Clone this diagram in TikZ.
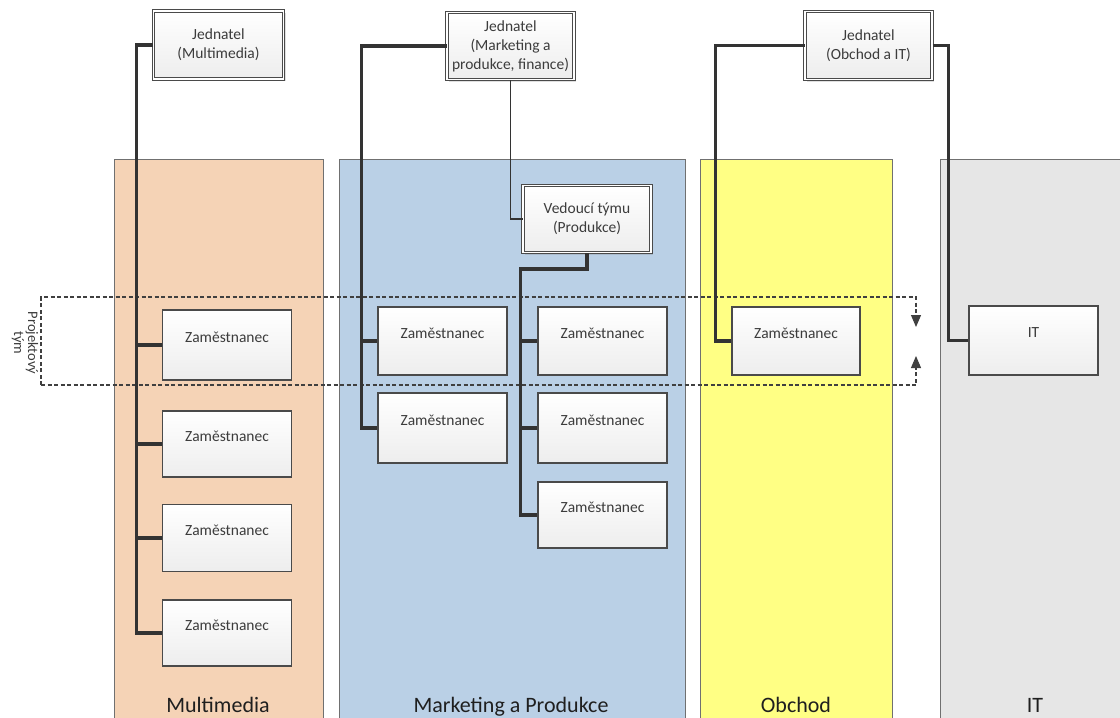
\documentclass[tikz,border=0pt]{standalone}
\usepackage{fontspec}
\setmainfont{Carlito}
\usetikzlibrary{arrows.meta,shadows,calc}
\definecolor{cMM}{HTML}{F5D3B6}
\definecolor{cMP}{HTML}{BAD0E6}
\definecolor{cOB}{HTML}{FFFF84}
\definecolor{cIT}{HTML}{E6E6E6}
\definecolor{lane}{HTML}{707070}
\definecolor{conn}{HTML}{333333}
\definecolor{boxline}{HTML}{4A4A4A}
\definecolor{txt}{HTML}{3C3C3C}
\begin{document}
\begin{tikzpicture}[x=1pt,y=-1pt,
  lanebox/.style={draw=lane, line width=0.9pt},
  lanelabel/.style={font=\fontsize{22}{26}\selectfont, text=black!88, anchor=base},
  emp/.style={draw=boxline, line width=1.4pt, top color=white, bottom color=black!7,
              minimum width=129pt, inner sep=0pt},
  emptext/.style={font=\fontsize{15.5}{18}\selectfont, text=txt},
  head/.style={draw=boxline, line width=1pt, double=white, double distance=1.6pt,
              top color=white, bottom color=black!7, minimum width=127pt, minimum height=66pt,
              inner sep=0pt, align=center, font=\fontsize{15.5}{19}\selectfont, text=txt,
              drop shadow={opacity=0.25, shadow xshift=2pt, shadow yshift=-2pt}},
  conn/.style={draw=conn, line width=3.3pt},
  thinconn/.style={draw=conn, line width=1.9pt},
  team/.style={draw=black!75, line width=1.1pt, dash pattern=on 4pt off 2.5pt},
  tip/.style={-{Triangle[length=12pt,width=10pt]}}
]
\useasboundingbox (0,0) rectangle (1120,718);
\clip (0,0) rectangle (1120,718);

% swimlanes
\path[lanebox, fill=cMM] (114,159) rectangle (323,730);
\path[lanebox, fill=cMP] (339,159) rectangle (685,730);
\path[lanebox, fill=cOB] (700,159) rectangle (892,730);
\path[lanebox, fill=cIT] (940,159) rectangle (1130,730);
\node[lanelabel] (lmm) at (218,712) {Multimedia};
\node[lanelabel] (lmp) at (511,712) {Marketing a Produkce};
\node[lanelabel] (lob) at (796,712) {Obchod};
\node[lanelabel] (lit) at (1035,712) {IT};

% project team frame
\coordinate (tA) at (41,385);
\coordinate (tB) at (41,297);
\coordinate (tC) at (916,297);
\coordinate (tD) at (916,327);
\coordinate (tE) at (916,385);
\coordinate (tF) at (916,356);
\draw[team, tip] (tA) -- (tB) -- (tC) -- (tD);
\draw[team, tip] (tA) -- (tE) -- (tF);
\node[rotate=-90, align=center, font=\fontsize{14.5}{14}\selectfont, text=txt] (pt) at (25,343) {Projektový\\tým};

% head boxes
\node[head, minimum width=130pt, minimum height=68pt] (jm) at (218.5,45) {Jednatel\\(Multimedia)};
\node[head, minimum height=67pt] (jmp) at (510.5,46) {Jednatel\\(Marketing a\\produkce, finance)};
\node[head, minimum height=68pt] (jo) at (868.5,45.5) {Jednatel\\(Obchod a IT)};

% employee boxes
\node[emp, minimum height=70pt] (m1) at (227,345) {};
\node[emp, minimum height=66pt] (m2) at (227,444) {};
\node[emp, minimum height=67pt] (m3) at (227,538) {};
\node[emp, minimum height=66pt] (m4) at (227,633) {};
\node[emp, minimum height=68pt] (l1) at (442.5,341) {};
\node[emp, minimum height=70pt] (l2) at (442.5,428) {};
\node[emp, minimum height=68pt] (r1) at (602.5,341) {};
\node[emp, minimum height=70pt] (r2) at (602.5,428) {};
\node[emp, minimum height=66pt] (r3) at (602.5,515) {};
\node[emp, minimum width=128pt, minimum height=68pt] (ob) at (796,341) {};
\node[emp, minimum height=69pt] (it) at (1033.5,340.5) {};

% connectors
\draw[conn] (jm.west) -| ($(m4.west)+(-25,0)$) -- (m4.west);
\foreach \n in {m1,m2,m3} \draw[conn] (\n.west) -- ++(-25,0);
\draw[conn] (jmp.west) -| ($(l2.west)+(-16,0)$) -- (l2.west);
\draw[conn] (l1.west) -- ++(-16,0);
\draw[conn] (jo.west) -| ($(ob.west)+(-16,0)$) -- (ob.west);
\draw[conn] (jo.east) -| ($(it.west)+(-20,0)$) -- (it.west);

% team leader
\node[head, minimum width=128pt, minimum height=67pt] (vt) at (587,219) {Vedoucí týmu\\(Produkce)};
\draw[thinconn] (jmp.south) |- (vt.west);
\draw[conn] (vt.south) -- ++(0,16) -| ($(r3.west)+(-17,0)$) -- (r3.west);
\foreach \n in {r1,r2} \draw[conn] (\n.west) -- ++(-17,0);

% box labels
\foreach \n in {m1,m2,m3,m4,l1,l2,r1,r2,r3,ob}
  \node[emptext] at ($(\n.center)+(0,-8)$) {Zaměstnanec};
\node[emptext] at ($(it.center)+(0,-8)$) {IT};
\end{tikzpicture}
\end{document}
